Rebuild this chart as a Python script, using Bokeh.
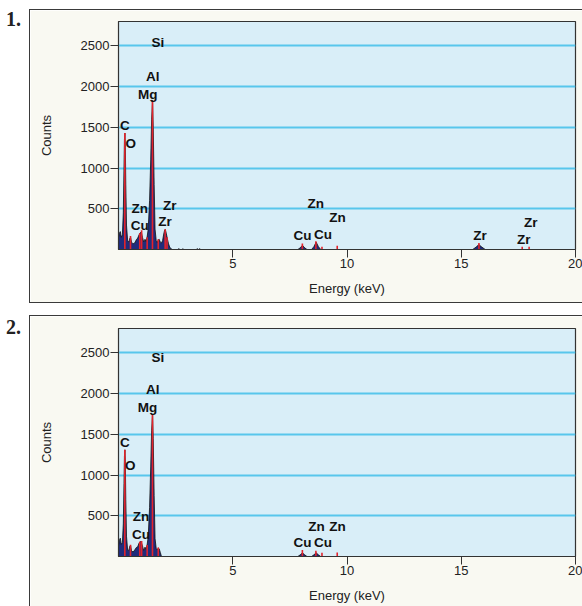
from bokeh.plotting import figure
from bokeh.models import FixedTicker, Range1d, Div
from bokeh.layouts import column, row
from bokeh.embed import file_html
from bokeh.resources import INLINE
from bokeh.core.properties import value

# ---------------- data: panel 1 ----------------
energy_1 = [0.00, 0.04, 0.08, 0.12, 0.17, 0.21, 0.24, 0.26, 0.28, 0.30, 0.32, 0.35,
            0.40, 0.45, 0.50, 0.53, 0.57, 0.64, 0.71, 0.78, 0.84, 0.90, 0.95, 1.00,
            1.05, 1.10, 1.13, 1.16, 1.20, 1.25, 1.30, 1.36, 1.41, 1.45, 1.49, 1.52,
            1.56, 1.60, 1.65, 1.70, 1.74, 1.78, 1.83, 1.88, 1.93, 1.98, 2.02, 2.05,
            2.09, 2.14, 2.19, 2.24, 2.30, 2.36, 2.60, 2.64, 2.68, 2.78, 2.82, 2.86,
            3.40, 3.45, 3.50, 3.55, 3.60, 7.85, 7.95, 8.05, 8.15, 8.25, 8.45, 8.55,
            8.65, 8.75, 8.85, 15.50, 15.65, 15.77, 15.90, 16.05, 20.00]
counts_1 = [150, 200, 220, 150, 180, 450, 1000, 1350, 1430, 1250, 800, 300,
            110, 90, 140, 150, 90, 70, 80, 120, 140, 180, 205, 215,
            150, 95, 110, 125, 100, 150, 250, 600, 1100, 1600, 1830, 1500,
            800, 250, 110, 85, 120, 125, 90, 80, 110, 190, 240, 245,
            200, 130, 70, 30, 8, 0, 0, 12, 0, 0, 10, 0,
            0, 10, 0, 10, 0, 0, 20, 52, 20, 0, 0, 35,
            90, 35, 0, 0, 30, 60, 30, 0, 0]
marker_e_1 = [0.277, 0.525, 0.930, 1.012, 1.254, 1.487, 1.740, 2.042, 2.124,
              8.047, 8.638, 8.905, 9.572, 15.775, 17.668, 17.970]
marker_h_1 = [1430, 165, 200, 235, 150, 1830, 125, 250, 150,
              75, 100, 35, 45, 80, 35, 35]
label_x_1 = [1.72, 1.50, 1.28, 0.28, 0.54, 0.93, 0.93, 2.24, 2.03,
             8.63, 9.58, 8.05, 8.95, 15.82, 18.04, 17.74]
label_y_1 = [2543, 2128, 1909, 1518, 1299, 506, 299, 543, 339,
             567, 393, 168, 189, 168, 332, 128]
label_t_1 = ["Si", "Al", "Mg", "C", "O", "Zn", "Cu", "Zr", "Zr",
             "Zn", "Zn", "Cu", "Cu", "Zr", "Zr", "Zr"]

# ---------------- data: panel 2 ----------------
energy_2 = [0.00, 0.04, 0.08, 0.12, 0.17, 0.21, 0.24, 0.26, 0.28, 0.30, 0.32, 0.35,
            0.40, 0.45, 0.50, 0.53, 0.57, 0.64, 0.71, 0.78, 0.84, 0.90, 0.95, 1.00,
            1.05, 1.10, 1.13, 1.16, 1.20, 1.25, 1.30, 1.36, 1.41, 1.45, 1.49, 1.52,
            1.56, 1.60, 1.65, 1.70, 1.74, 1.78, 1.83, 1.88, 7.85, 7.95, 8.05, 8.15,
            8.25, 8.45, 8.55, 8.65, 8.75, 8.85, 20.00]
counts_2 = [130, 200, 225, 150, 170, 400, 900, 1230, 1310, 1150, 700, 250,
            80, 75, 130, 135, 70, 55, 80, 110, 120, 165, 185, 175,
            130, 75, 95, 115, 90, 140, 240, 600, 1100, 1550, 1750, 1450,
            750, 220, 100, 80, 105, 95, 50, 0, 0, 20, 45, 20,
            0, 0, 20, 45, 20, 0, 0]
marker_e_2 = [0.277, 0.525, 0.930, 1.012, 1.254, 1.487, 1.740,
              8.047, 8.638, 8.905, 9.572]
marker_h_2 = [1310, 145, 180, 190, 140, 1750, 110, 80, 70, 45, 50]
label_x_2 = [1.72, 1.50, 1.27, 0.28, 0.51, 0.98, 0.98, 8.66, 9.58, 8.05, 8.95]
label_y_2 = [2449, 2047, 1827, 1398, 1119, 486, 269, 374, 374, 171, 171]
label_t_2 = ["Si", "Al", "Mg", "C", "O", "Zn", "Cu", "Zn", "Zn", "Cu", "Cu"]

panel_tags = ["1.", "2."]
x_ticks = [5, 10, 15, 20]
y_ticks = [500, 1000, 1500, 2000, 2500]

FONT = "Liberation Sans"


def make_panel(energy, counts, me, mh, lx, ly, lt, height, top_border, top_margin):
    p = figure(width=552, height=height, output_backend="svg", toolbar_location=None,
               x_range=Range1d(0, 20), y_range=Range1d(0, 2800),
               min_border_left=88, min_border_right=7, min_border_top=top_border,
               min_border_bottom=height - top_border - 228,
               margin=(top_margin, 0, 0, 0))
    p.styles = {"outline": "1px solid #3a3a3a"}
    p.background_fill_color = "#d9eef8"
    p.border_fill_color = "#f9f9f2"
    p.outline_line_color = "#333333"
    p.outline_line_width = 1.2

    for ax in (p.xaxis, p.yaxis):
        ax.axis_line_color = "#333333"
        ax.major_tick_line_color = "#333333"
        ax.major_tick_out = 8
        ax.major_tick_in = 0
        ax.minor_tick_out = 0
        ax.minor_tick_in = 0
        ax.major_label_text_font = FONT
        ax.major_label_text_font_size = "13px"
        ax.major_label_text_color = "#222222"
        ax.axis_label_text_font = FONT
        ax.axis_label_text_font_size = "13px"
        ax.axis_label_text_font_style = "normal"
        ax.axis_label_text_color = "#222222"
    p.xaxis.ticker = FixedTicker(ticks=x_ticks)
    p.yaxis.ticker = FixedTicker(ticks=y_ticks)
    p.xaxis.axis_label = "Energy (keV)"
    p.yaxis.axis_label = "Counts"
    p.xaxis.major_label_standoff = 1
    p.yaxis.major_label_standoff = 1
    p.xaxis.axis_label_standoff = 10
    p.yaxis.axis_label_standoff = 24

    p.xgrid.visible = False
    p.ygrid.ticker = FixedTicker(ticks=y_ticks)
    p.ygrid.grid_line_color = "#58c6ec"
    p.ygrid.grid_line_width = 2

    p.varea(x=energy, y1=0, y2=counts, fill_color="#202c7c")
    p.line(x=energy, y=counts, line_color="#111111", line_width=0.8)
    p.segment(x0=me, y0=[0] * len(me), x1=me, y1=mh, line_color="#e3232b", line_width=1.6)

    p.text(x=lx, y=ly, text=lt, text_font=value(FONT), text_font_style="bold",
           text_font_size="13.5px", text_color="#111111",
           text_align="center", text_baseline="middle")
    return p


def tag_div(tag, pad_top, height):
    html = ('<div style="font-family:\'Liberation Serif\',serif;font-weight:bold;'
            'font-size:20px;line-height:22px;color:#222222;margin:0;'
            'padding:%dpx 0 0 6px;">%s</div>' % (pad_top, tag))
    return Div(text=html, width=30, height=height, margin=(0, 0, 0, 0))


p1 = make_panel(energy_1, counts_1, marker_e_1, marker_h_1,
                label_x_1, label_y_1, label_t_1, 292, 11, 10)
p2 = make_panel(energy_2, counts_2, marker_e_2, marker_h_2,
                label_x_2, label_y_2, label_t_2, 290, 12, 14)

layout = column(row(tag_div(panel_tags[0], 8, 302), p1, spacing=0, margin=(0, 0, 0, 0)),
                row(tag_div(panel_tags[1], 14, 304), p2, spacing=0, margin=(0, 0, 0, 0)),
                spacing=0, margin=(0, 0, 0, 0))
open("out.html", "w").write(file_html(layout, INLINE))
